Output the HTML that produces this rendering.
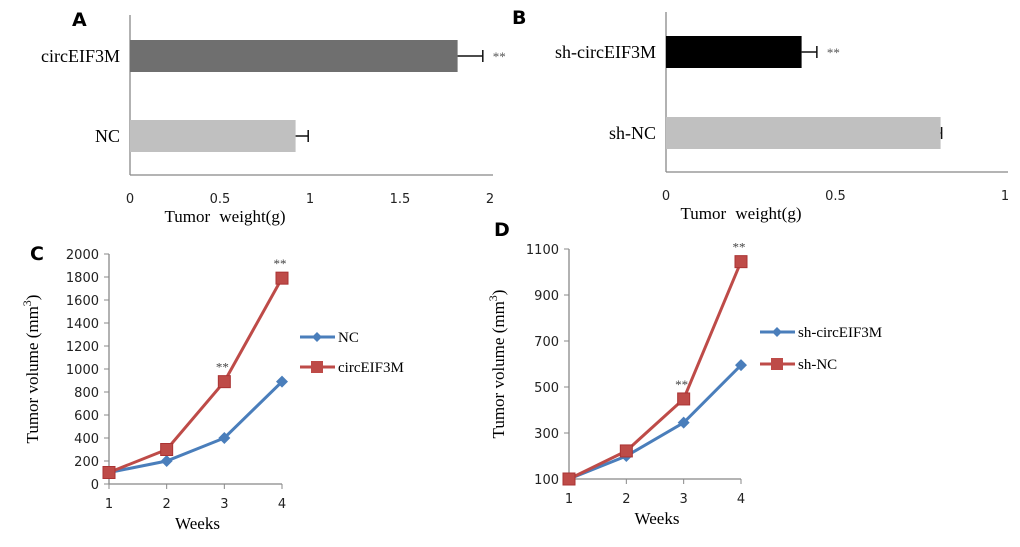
<!DOCTYPE html>
<html><head><meta charset="utf-8"><style>
body{margin:0;background:#fff;width:1020px;height:542px;overflow:hidden}
svg text{font-family:"Liberation Serif",serif}
.sans{font-family:"DejaVu Sans","Liberation Sans",sans-serif}
</style></head><body>
<svg id="c" width="1020" height="542"></svg>
<script>
// Panel A
const aCats=["circEIF3M","NC"], aVals=[1.82,0.92], aErr=[0.14,0.07], aTicks=[0,0.5,1,1.5,2];
// Panel B
const bCats=["sh-circEIF3M","sh-NC"], bVals=[0.40,0.81], bErr=[0.045,0.003], bTicks=[0,0.5,1];
// Panel C
const weeks=[1,2,3,4];
const cNC=[100,200,400,890], cCirc=[100,300,890,1790], cTicks=[0,200,400,600,800,1000,1200,1400,1600,1800,2000];
// Panel D
const dSh=[100,200,345,595], dShNC=[100,222,448,1045], dTicks=[100,300,500,700,900,1100];

const NS="http://www.w3.org/2000/svg", svg=document.getElementById('c');
function mk(t,a,txt,name){const e=document.createElementNS(NS,t);for(const k in a)e.setAttribute(k,a[k]);if(txt!=null)e.textContent=txt;


svg.appendChild(e);return e;}

function barPanel(o){
  const x=v=>o.x0+(v-o.min)/(o.max-o.min)*(o.x1-o.x0);
  mk('line',{x1:o.x0,y1:o.yt,x2:o.x0,y2:o.yb,stroke:'#888','stroke-width':1.3},null,o.p+'-y-axis');
  mk('line',{x1:o.x0,y1:o.yb,x2:o.x1+3,y2:o.yb,stroke:'#888','stroke-width':1.3},null,o.p+'-x-axis');
  o.ticks.forEach(t=>mk('text',{x:x(t),y:o.yb+28,'font-size':13,'text-anchor':'middle',class:'sans',fill:'#222'},String(t),o.p+'-x-tick'));
  mk('text',{x:o.tx,y:o.yb+47,'font-size':17,'text-anchor':'middle','word-spacing':'5px'},'Tumor weight(g)',o.p+'-x-axis-title');
  o.cats.forEach((c,i)=>{
    const y=o.by[i],h=32,v=o.vals[i];
    mk('rect',{x:o.x0,y:y,width:x(v)-o.x0,height:h,fill:o.cols[i]},null,o.p+'-bar-'+c);
    const xe=x(v+o.err[i]), yc=y+h/2;
    mk('line',{x1:x(v),y1:yc,x2:xe,y2:yc,stroke:'#111','stroke-width':1.5},null,o.p+'-error-bar');
    mk('line',{x1:xe,y1:yc-6,x2:xe,y2:yc+6,stroke:'#111','stroke-width':1.5},null,o.p+'-error-cap');
    mk('text',{x:o.x0-10,y:yc+6,'font-size':18,'text-anchor':'end'},c,o.p+'-category-label');
    if(i==0) mk('text',{x:xe+10,y:yc+5,'font-size':13,fill:'#555'},'**',o.p+'-significance');
  });
  mk('text',{x:o.lx,y:o.ly,'font-size':19,'font-weight':'bold',class:'sans'},o.L,o.p+'-panel-label');
}
barPanel({p:'a',x0:130,x1:490,min:0,max:2,yt:15,yb:175,ticks:aTicks,cats:aCats,vals:aVals,err:aErr,by:[40,120],cols:['#6f6f6f','#c0c0c0'],tx:225,lx:72,ly:26,L:'A'});
barPanel({p:'b',x0:666,x1:1005,min:0,max:1,yt:12,yb:172,ticks:bTicks,cats:bCats,vals:bVals,err:bErr,by:[36,117],cols:['#000','#c0c0c0'],tx:741,lx:512,ly:24,L:'B'});

function linePanel(o){
  const x=w=>o.x0+(w-1)/3*(o.x1-o.x0), y=v=>o.yb-(v-o.min)/(o.max-o.min)*(o.yb-o.yt);
  mk('line',{x1:o.x0,y1:o.yt,x2:o.x0,y2:o.yb,stroke:'#888','stroke-width':1.3},null,o.p+'-y-axis');
  mk('line',{x1:o.x0,y1:o.yb,x2:o.x1,y2:o.yb,stroke:'#888','stroke-width':1.3},null,o.p+'-x-axis');
  o.ticks.forEach(t=>{mk('line',{x1:o.x0-5,y1:y(t),x2:o.x0,y2:y(t),stroke:'#888'},null,o.p+'-y-tick-mark');
    mk('text',{x:o.x0-10,y:y(t)+5,'font-size':13,'text-anchor':'end',class:'sans',fill:'#222'},String(t),o.p+'-y-tick');});
  weeks.forEach(w=>{mk('line',{x1:x(w),y1:o.yb,x2:x(w),y2:o.yb+5,stroke:'#888'},null,o.p+'-x-tick-mark');
    mk('text',{x:x(w),y:o.yb+24,'font-size':13,'text-anchor':'middle',class:'sans',fill:'#222'},String(w),o.p+'-x-tick');});
  mk('text',{x:(o.x0+o.x1)/2+2,y:o.yb+45,'font-size':17,'text-anchor':'middle'},'Weeks',o.p+'-x-axis-title');
  const yl=mk('text',{transform:`translate(${o.ylx},${(o.yt+o.yb)/2}) rotate(-90)`,'font-size':17,'text-anchor':'middle'},null,o.p+'-y-axis-title');
  yl.innerHTML='Tumor volume (mm<tspan dy="-7" font-size="12">3</tspan><tspan dy="7">)</tspan>';
  o.series.forEach((s,si)=>{
    mk('polyline',{points:s.v.map((v,i)=>x(weeks[i])+','+y(v)).join(' '),fill:'none',stroke:s.c,'stroke-width':3},null,o.p+'-line-'+s.n);
    s.v.forEach((v,i)=>{const cx=x(weeks[i]),cy=y(v);
      if(s.sq) mk('rect',{x:cx-6,y:cy-6,width:12,height:12,fill:s.c,stroke:'#a33'},null,o.p+'-point-'+s.n);
      else mk('polygon',{points:`${cx},${cy-6} ${cx+6},${cy} ${cx},${cy+6} ${cx-6},${cy}`,fill:s.c},null,o.p+'-point-'+s.n);});
    const ly=o.legY[si];
    mk('line',{x1:o.legX,y1:ly,x2:o.legX+35,y2:ly,stroke:s.c,'stroke-width':3},null,o.p+'-legend-line');
    const mx=o.legX+17;
    if(s.sq) mk('rect',{x:mx-6,y:ly-6,width:12,height:12,fill:s.c},null,o.p+'-legend-marker');
    else mk('polygon',{points:`${mx},${ly-5} ${mx+5},${ly} ${mx},${ly+5} ${mx-5},${ly}`,fill:s.c},null,o.p+'-legend-marker');
    mk('text',{x:o.legX+38,y:ly+5,'font-size':15},s.n,o.p+'-legend-entry');
  });
  const r=o.series[1].v;
  [2,3].forEach(i=>mk('text',{x:x(weeks[i])-2,y:y(r[i])-10,'font-size':13,'text-anchor':'middle',fill:'#444'},'**',o.p+'-significance'));
  mk('text',{x:o.lx,y:o.ly,'font-size':19,'font-weight':'bold',class:'sans'},o.L,o.p+'-panel-label');
}
linePanel({p:'c',x0:109,x1:282,yt:254,yb:484,min:0,max:2000,ticks:cTicks,ylx:38,legX:300,legY:[337,367],lx:30,ly:260,L:'C',
  series:[{n:'NC',v:cNC,c:'#4a7ebb'},{n:'circEIF3M',v:cCirc,c:'#be4b48',sq:1}]});
linePanel({p:'d',x0:569,x1:741,yt:249,yb:479,min:100,max:1100,ticks:dTicks,ylx:504,legX:760,legY:[332,364],lx:494,ly:236,L:'D',
  series:[{n:'sh-circEIF3M',v:dSh,c:'#4a7ebb'},{n:'sh-NC',v:dShNC,c:'#be4b48',sq:1}]});
</script>
</body></html>
